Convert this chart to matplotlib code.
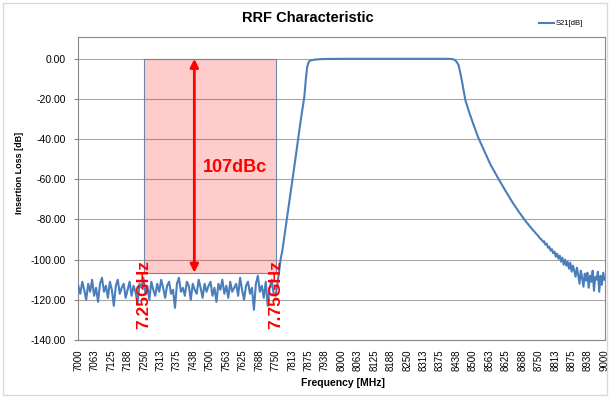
import numpy as np
import matplotlib
matplotlib.use('Agg')
import matplotlib.pyplot as plt
import matplotlib.patches as mpatches

plt.rcParams['font.family'] = ['Liberation Sans', 'DejaVu Sans']

# ── DATA ─────────────────────────────────────────────
# stopband noise floor, 7000 .. 7742.5 MHz in 7.5 MHz steps
noise_start, noise_step = 7000.0, 7.5
noise_db = [-113, -117, -111, -115, -120, -112, -116, -110, -118, -114,
            -121, -112, -109, -116, -113, -119, -111, -115, -123, -113,
            -110, -117, -114, -112, -119, -115, -111, -118, -113, -116,
            -122, -112, -114, -109, -117, -113, -120, -111, -115, -118,
            -112, -116, -110, -114, -119, -113, -111, -117, -115, -124,
            -112, -109, -116, -114, -118, -111, -113, -120, -112, -115,
            -117, -110, -114, -119, -112, -116, -113, -111, -118, -114,
            -121, -112, -115, -110, -117, -113, -119, -111, -116, -114,
            -112, -118, -109, -115, -120, -113, -111, -117, -114, -125,
            -112, -108, -116, -113, -119, -111, -123, -114, -110, -117]

# lower skirt + passband + upper skirt
band_freq = [7750, 7757, 7763, 7770, 7775, 7800, 7825, 7845, 7859, 7865,
             7870, 7876, 7882, 7900, 7930, 8000, 8400, 8420, 8430, 8438,
             8445, 8452, 8458, 8465, 8471, 8483, 8500, 8521, 8545, 8566,
             8598, 8625, 8649, 8675, 8700, 8725]
band_db = [-118, -112, -106, -99, -96, -73, -50, -31, -19, -10,
           -4, -1.5, -0.8, -0.4, -0.1, 0, 0, -0.1, -0.5, -1.5,
           -3, -7, -11, -16, -20.5, -25.6, -32, -39.5, -46.5, -52.5,
           -60, -66, -71.2, -76.3, -80.8, -84.8]

# upper tail, 8750 .. 9000 MHz in 5 MHz steps
tail_start, tail_step = 8750.0, 5.0
tail_db = [-88.5, -89.5, -89.8, -91.0, -90.8, -92.5, -92.0, -94.0, -93.5, -95.5,
           -94.8, -96.8, -96.0, -98.5, -97.0, -99.5, -98.0, -101.0, -99.0, -102.5,
           -100.0, -103.0, -101.0, -104.5, -101.5, -106.0, -103.0, -105.5, -108.5, -104.0,
           -107.5, -112.0, -105.5, -109.0, -113.5, -107.0, -110.5, -106.5, -114.0, -108.0,
           -111.0, -105.5, -115.5, -108.5, -110.0, -106.0, -116.0, -108.0, -112.5, -106.5,
           -110.0]

# marked rejection window
win_lo, win_hi = 7250, 7750
win_depth = -106.5
arrow_freq = 7441
rejection_label = "107dBc"

LINE_BLUE = "#4a7ebb"
GRID = "#a6a6a6"

noise_freq = noise_start + noise_step * np.arange(len(noise_db))
tail_freq = tail_start + tail_step * np.arange(len(tail_db))
freq = np.concatenate([noise_freq, band_freq, tail_freq])
s21 = np.concatenate([noise_db, band_db, tail_db])

# ── FIGURE ───────────────────────────────────────────
fig = plt.figure(figsize=(6.10, 3.98), dpi=100)
fig.patch.set_facecolor('white')
fig.patches.append(mpatches.Rectangle((3 / 610, 3 / 398), 604 / 610, 392 / 398,
                                      transform=fig.transFigure, fill=False,
                                      edgecolor='#d9d9d9', linewidth=1))

ax = fig.add_axes([78.3 / 610, 1 - 340 / 398, (604.5 - 78.3) / 610, (340 - 37.3) / 398])

# shaded rejection window
ax.add_patch(mpatches.Rectangle((win_lo, win_depth), win_hi - win_lo, -win_depth,
                                facecolor=(1, 0, 0, 0.2), edgecolor='#6f86a8',
                                linewidth=0.8, zorder=1))

ax.plot(freq, s21, color=LINE_BLUE, linewidth=1.5, label='S21[dB]', zorder=3)

ax.annotate('', xy=(arrow_freq, 0), xytext=(arrow_freq, win_depth),
            arrowprops=dict(arrowstyle='<|-|>', color='#ff0000', lw=2,
                            mutation_scale=12, shrinkA=0, shrinkB=0), zorder=4)
ax.text(7473, -54, rejection_label, color='#ff0000', fontsize=13,
        fontweight='bold', ha='left', va='center', zorder=5)
ax.text(win_lo, -117.5, '7.25GHz', color='#ff0000', fontsize=12.5,
        fontweight='bold', rotation=90, ha='center', va='center', zorder=5)
ax.text(win_hi, -117.5, '7.75GHz', color='#ff0000', fontsize=12.5,
        fontweight='bold', rotation=90, ha='center', va='center', zorder=5)

# axes
ax.set_xlim(7000, 9000)
ax.set_ylim(-140, 10.7)
xt = np.arange(7000, 9000.1, 62.5)
ax.set_xticks(xt)
ax.set_xticklabels([f"{int(v + 0.5)}" for v in xt], rotation=90, fontsize=7)
ax.set_xticks(np.arange(7000, 9000.1, 125), minor=True)
ax.tick_params(axis='x', which='major', length=0, pad=7)
ax.tick_params(axis='x', which='minor', length=3, color='#888888')
yt = np.arange(-140, 0.1, 20)
ax.set_yticks(yt)
ax.set_yticklabels([f"{v:.2f}" for v in yt], fontsize=7.5)
ax.tick_params(axis='y', length=3, pad=6, color='#888888')

ax.grid(which='minor', axis='x', color=GRID, linewidth=0.8)
ax.grid(which='major', axis='y', color=GRID, linewidth=0.8)
ax.set_axisbelow(True)
for spine in ax.spines.values():
    spine.set_color('#888888')
    spine.set_linewidth(0.8)

fig.text(308 / 610, 1 - 17.8 / 398, 'RRF Characteristic', fontsize=10.5,
         fontweight='bold', ha='center', va='center')
fig.text(343 / 610, 1 - 383 / 398, 'Frequency [MHz]', fontsize=7.5,
         fontweight='bold', ha='center', va='center')
fig.text(20 / 610, 1 - 173 / 398, 'Insertion Loss [dB]', fontsize=6.5,
         fontweight='bold', ha='center', va='center', rotation=90)

fig.legend(loc='center left', bbox_to_anchor=(539 / 610, 1 - 23.7 / 398),
           frameon=False, fontsize=5.5, handlelength=2.0, handletextpad=0.2,
           borderaxespad=0, borderpad=0)

fig.savefig('out.png', dpi=100, facecolor=fig.get_facecolor())
